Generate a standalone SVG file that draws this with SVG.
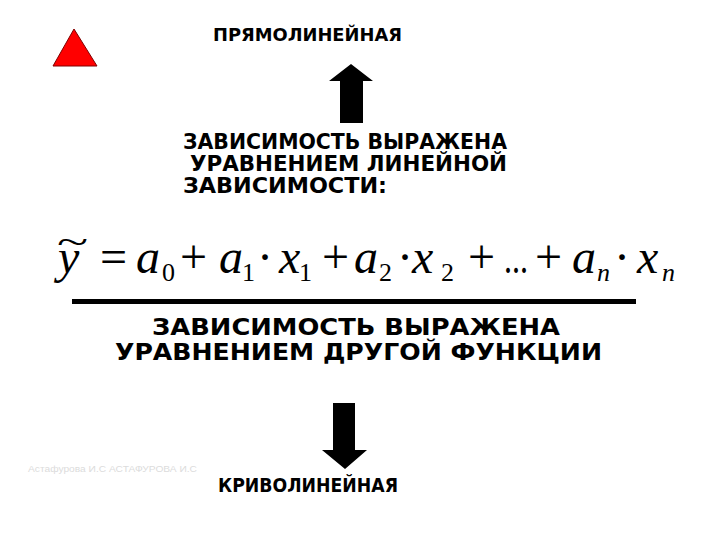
<svg xmlns="http://www.w3.org/2000/svg" width="720" height="540" viewBox="0 0 720 540">
<style>
.t{font-family:"DejaVu Sans","Liberation Sans",sans-serif;font-weight:bold;fill:#000}
.m{font-family:"Liberation Serif","Times New Roman",serif;fill:#000}
.i{font-style:italic}
.wm{font-family:"Liberation Sans",sans-serif;fill:#dcdcdc;font-size:9px}
</style>
<rect width="720" height="540" fill="#fff"/>
<g id="triangle">
<polygon points="74,29 53,66 97,66" fill="#ff0000" stroke="#800000" stroke-width="1"/>
</g>
<g id="label-straight">
<text class="t" x="213" y="41" font-size="18" textLength="189" lengthAdjust="spacingAndGlyphs">ПРЯМОЛИНЕЙНАЯ</text>
</g>
<g id="connectors">
<polygon points="351,64 373,81 363,81 363,123 340,123 340,81 329,81" fill="#000"/>
<polygon points="333,403 355,403 355,450 367,450 345,469 322,450 333,450" fill="#000"/>
</g>
<g id="linear-text">
<text class="t" x="183" y="149" font-size="21" textLength="324" lengthAdjust="spacingAndGlyphs">ЗАВИСИМОСТЬ ВЫРАЖЕНА</text>
<text class="t" x="190" y="171" font-size="21" textLength="317" lengthAdjust="spacingAndGlyphs">УРАВНЕНИЕМ ЛИНЕЙНОЙ</text>
<text class="t" x="183" y="193" font-size="21" textLength="204" lengthAdjust="spacingAndGlyphs">ЗАВИСИМОСТИ:</text>
</g>
<g id="formula">
<text class="m" x="0" y="0" font-size="36" transform="translate(57,254) scale(1.6,1)">~</text>
<text class="m i" x="58" y="273" font-size="48">y</text>
<text class="m" x="100" y="273" font-size="48">=</text>
<text class="m i" x="136" y="273" font-size="48">a</text>
<text class="m" x="162" y="281" font-size="26">0</text>
<text class="m" x="180" y="273" font-size="48">+</text>
<text class="m i" x="219" y="273" font-size="48">a</text>
<text class="m" x="242" y="281" font-size="26">1</text>
<text class="m" x="265" y="273" font-size="48" text-anchor="middle">·</text>
<text class="m i" x="279" y="273" font-size="48">x</text>
<text class="m" x="299" y="281" font-size="26">1</text>
<text class="m" x="322" y="273" font-size="48">+</text>
<text class="m i" x="354" y="273" font-size="48">a</text>
<text class="m" x="379" y="281" font-size="26">2</text>
<text class="m" x="405" y="273" font-size="48" text-anchor="middle">·</text>
<text class="m i" x="412" y="273" font-size="48">x</text>
<text class="m" x="441" y="281" font-size="26">2</text>
<text class="m" x="468" y="273" font-size="48">+</text>
<text class="m" x="504" y="273" font-size="44" textLength="24" lengthAdjust="spacingAndGlyphs">...</text>
<text class="m" x="535" y="273" font-size="48">+</text>
<text class="m i" x="572" y="273" font-size="48">a</text>
<text class="m i" x="597" y="281" font-size="26">n</text>
<text class="m" x="622" y="273" font-size="48" text-anchor="middle">·</text>
<text class="m i" x="637" y="273" font-size="48">x</text>
<text class="m i" x="662" y="281" font-size="26">n</text>
</g>
<g id="divider">
<rect x="72" y="299" width="564" height="5" fill="#000"/>
</g>
<g id="other-text">
<text class="t" x="152" y="335" font-size="23" textLength="408" lengthAdjust="spacingAndGlyphs">ЗАВИСИМОСТЬ ВЫРАЖЕНА</text>
<text class="t" x="115" y="360" font-size="23" textLength="487" lengthAdjust="spacingAndGlyphs">УРАВНЕНИЕМ ДРУГОЙ ФУНКЦИИ</text>
</g>
<g id="label-curved">
<text class="t" x="218" y="492" font-size="19" textLength="180" lengthAdjust="spacingAndGlyphs">КРИВОЛИНЕЙНАЯ</text>
</g>
<g id="watermark">
<text class="wm" x="28" y="472" textLength="169" lengthAdjust="spacingAndGlyphs">Астафурова И.С АСТАФУРОВА И.С</text>
</g>
</svg>
